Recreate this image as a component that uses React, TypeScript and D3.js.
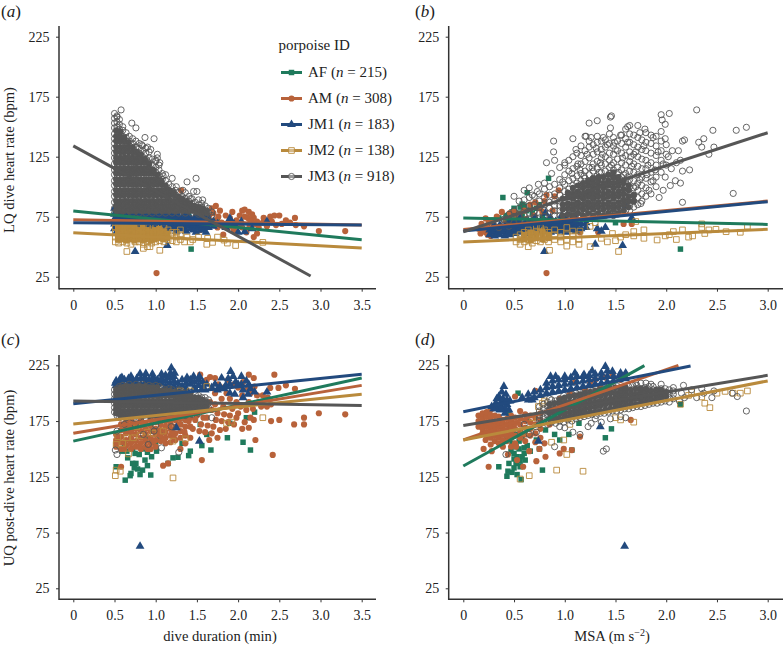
import React, { useEffect, useRef } from 'react';
import * as d3 from 'd3';

type Pt = number[];

const seriesIds = ['AF', 'AM', 'JM1', 'JM2', 'JM3'];
const seriesCounts = [215, 308, 183, 138, 918];
const yTicks = [25, 75, 125, 175, 225];
const durationTicks = [0, 0.5, 1, 1.5, 2, 2.5, 3, 3.5];
const msaTicks = [0, 0.5, 1, 1.5, 2, 2.5, 3];

// fitted lines, one per porpoise: [value at 0, x end, value at end]
const linesA = [[79.7, 3.5, 55.8], [72.5, 3.5, 68], [70, 3.5, 68], [61.7, 3.5, 49], [134, 2.88, 25.6]];
const linesB = [[74, 3, 68.6], [64.4, 3, 88], [63, 3, 87.5], [54, 3, 64.5], [62.5, 3, 145]];
const linesC = [[157, 3.5, 213.6], [164, 3.5, 207], [190.6, 3.5, 217], [172.4, 3.5, 199], [193, 3.5, 189]];
const linesD = [[134.7, 1.785, 224.7], [158, 2.12, 225], [183.4, 2.24, 224.4], [158, 3, 211], [171, 3, 216]];

// (a) dive duration vs LQ dive heart rate. Scatter is [x, y], columns are [x, y, y, y...]
// "Core" columns are the places where the marks overlap so much they read as a solid patch
const afA: Pt[] = [[1.43, 48], [0.51, 78], [0.6, 83], [1.4, 78], [1.94, 67], [1.75, 71], [2.1, 64], [0.9, 72], [1.2, 70], [1.6, 72], [2.0, 70]];
const amA: Pt[] = [[1.01, 28], [2.98, 63], [3.3, 63], [1.31, 97], [1.73, 84], [1.78, 80], [1.93, 79], [2.05, 80], [2.08, 81], [2.13, 79], [2.08, 75], [2.19, 74], [2.23, 71], [2.31, 74], [2.39, 75], [2.44, 76], [2.5, 76], [2.41, 71], [2.53, 69], [2.58, 72], [2.69, 74], [2.7, 68], [2.63, 70], [2.8, 67], [2.46, 68], [1.7, 78], [1.62, 69], [1.54, 64], [1.82, 60], [2.19, 58], [2.23, 61], [2.35, 67], [1.68, 82], [1.76, 75], [1.85, 76], [1.9, 74], [1.98, 72], [2.02, 76], [2.12, 74], [2.17, 77], [2.2, 69], [2.25, 66], [2.36, 71], [2.14, 67], [1.65, 76], [1.6, 79], [1.56, 72], [1.5, 68], [1.45, 66], [1.72, 72], [1.8, 70], [1.88, 66], [1.95, 64], [2.05, 66], [2.1, 62], [1.25, 78], [1.1, 80], [0.9, 80], [1.35, 82], [1.75, 66], [1.9, 70], [2.0, 68], [2.15, 71], [2.3, 70]];
const jm1A: Pt[] = [[0.75, 46], [1.14, 51], [1.9, 73.6], [1.47, 74], [2.04, 71], [2.08, 62.5], [2.17, 65], [2.35, 71], [1.75, 69], [1.85, 66], [1.95, 69], [2.0, 62]];
const jm1AColumns: Pt[] = [
  [0.5, 65, 69, 73, 77, 82], [0.53, 63, 67, 71, 75, 79], [0.56, 67, 71, 75, 79], [0.59, 65, 69, 73, 77], [0.62, 65, 69, 73, 77], [0.65, 63, 67, 71, 75, 79], [0.68, 67, 71, 75, 79],
  [0.71, 65, 69, 73, 77], [0.74, 65, 69, 73, 77], [0.77, 63, 67, 71, 75, 79], [0.8, 67, 71, 75, 79], [0.83, 65, 69, 73, 77], [0.86, 65, 69, 73, 77], [0.89, 63, 67, 71, 75, 79], [0.92, 67, 71, 75, 79],
  [0.95, 65, 69, 73, 77], [0.98, 65, 69, 73, 77], [1.01, 63, 67, 71, 75, 79], [1.04, 67, 71, 75, 79], [1.07, 65, 69, 73, 77], [1.1, 65, 69, 73, 77], [1.13, 63, 67, 71, 75, 79], [1.16, 67, 71, 75, 79],
  [1.19, 65, 69, 73, 77], [1.22, 65, 69, 73, 77], [1.25, 63, 67, 71, 75, 79], [1.28, 67, 71, 75], [1.31, 65, 69, 73], [1.34, 65, 69, 73, 77], [1.37, 63, 67, 71, 75], [1.4, 67, 71, 75],
  [1.43, 65, 69, 73], [1.46, 64, 68, 72], [1.49, 62, 66, 70, 74], [1.52, 66, 70, 74], [1.55, 64, 68, 72], [1.58, 64, 68, 72, 76], [1.61, 62, 66, 70, 74], [1.64, 66, 70, 74], [1.7, 67, 71],
];
const jm2A: Pt[] = [[0.65, 46], [0.85, 48.6], [0.93, 50], [1.05, 47], [1.63, 57], [1.62, 52], [1.69, 53.6], [1.83, 55.5], [1.87, 53], [1.97, 51], [2.3, 53.6], [1.45, 56], [1.38, 58], [1.52, 58], [1.75, 58], [1.35, 54], [1.42, 54]];
const jm2AColumns: Pt[] = [
  [0.51, 54, 58, 62, 66, 70], [0.55, 53, 56, 60, 64, 68], [0.6, 54, 58, 62, 66], [0.65, 53, 56, 60, 64, 68], [0.7, 52, 58, 62, 66],
  [0.75, 54, 57, 60, 64, 68], [0.8, 54, 58, 62, 66], [0.85, 52, 56, 60, 64, 68], [0.9, 50, 54, 58, 62, 66], [0.95, 53, 56, 60, 64],
  [1.0, 54, 58, 62, 66], [1.05, 55, 60, 64], [1.1, 54, 58, 62, 66], [1.15, 56, 60, 64], [1.2, 55, 59, 62], [1.25, 54, 58, 62],
  [1.3, 56, 60, 64],
];
const jm2ACore: Pt[] = [
  [0.54, 56, 60, 64, 68], [0.59, 56, 60, 64, 67], [0.64, 55, 59, 63, 67], [0.69, 56, 60, 64, 68], [0.74, 55, 59, 63, 67], [0.79, 56, 60, 64],
  [0.84, 55, 59, 63, 67], [0.89, 56, 60, 64], [0.94, 55, 59, 63], [0.99, 56, 60, 64], [1.04, 57, 61, 65], [1.09, 56, 60, 63], [1.14, 57, 61],
];
const jm3A: Pt[] = [[0.5, 161], [0.58, 164], [0.53, 159], [0.71, 153], [0.76, 149], [0.87, 141], [0.98, 140], [1.02, 127], [1.02, 124], [1.09, 109], [1.2, 107], [1.25, 100], [1.38, 104], [1.49, 107], [1.46, 96], [1.5, 96], [1.57, 89], [1.33, 97], [1.42, 90], [0.83, 135], [0.9, 133], [0.94, 131], [1.0, 122], [1.05, 120], [1.12, 110]];
const jm3AColumns: Pt[] = [
  [0.5, 78, 82, 87, 92, 96, 101, 105, 110, 114, 119, 124, 128, 132, 136, 140, 144, 149, 153, 157],
  [0.53, 80, 84, 89, 94, 98, 103, 107, 112, 116, 121, 126, 130, 134, 138, 142, 146, 150, 154, 158],
  [0.56, 78, 82, 87, 91, 96, 100, 105, 109, 114, 118, 123, 127, 132, 136, 140, 145, 148, 152, 156],
  [0.6, 80, 85, 89, 94, 98, 103, 107, 112, 116, 121, 125, 130, 134, 138, 142, 147, 150],
  [0.64, 78, 83, 87, 92, 96, 101, 105, 110, 114, 119, 123, 128, 132, 136, 141, 145],
  [0.68, 80, 85, 89, 94, 98, 103, 107, 112, 116, 121, 125, 130, 134, 138, 142],
  [0.72, 78, 83, 87, 92, 96, 101, 105, 110, 114, 119, 123, 128, 132, 136, 140],
  [0.76, 80, 84, 89, 93, 98, 102, 107, 111, 116, 120, 125, 129, 133, 138],
  [0.8, 78, 83, 87, 92, 96, 101, 105, 110, 114, 119, 123, 128, 132, 136],
  [0.84, 80, 85, 89, 94, 98, 103, 107, 112, 116, 121, 125, 130, 134],
  [0.88, 78, 83, 87, 92, 96, 101, 105, 110, 114, 119, 123, 128, 132],
  [0.92, 80, 85, 89, 94, 98, 103, 107, 112, 116, 120, 124, 129],
  [0.96, 78, 83, 87, 92, 96, 101, 105, 110, 114, 118, 123],
  [1.0, 80, 85, 89, 94, 98, 103, 107, 112, 116, 121],
  [1.04, 78, 83, 87, 92, 96, 100, 105, 109, 114, 118],
  [1.08, 80, 84, 89, 93, 98, 102, 106, 111],
  [1.12, 78, 83, 87, 92, 96, 100, 105],
  [1.16, 80, 84, 89, 93, 97, 102],
  [1.2, 78, 83, 87, 91, 96, 100],
  [1.24, 80, 84, 88, 93, 97],
  [1.28, 78, 82, 87, 91, 95],
  [1.32, 80, 84, 88, 92],
  [1.36, 78, 82, 86, 90, 95],
  [1.4, 80, 84, 88, 92],
  [1.44, 78, 82, 86, 90],
  [1.48, 79, 83, 87],
  [1.52, 77, 81, 85, 89],
  [1.56, 79, 83, 86],
  [1.6, 76, 80, 84],
  [1.64, 78, 82],
  [1.68, 76, 79],
];
const jm3ACore: Pt[] = [
  [0.52, 80, 84, 88, 93, 97, 102, 106, 111, 115, 120, 124, 129, 133, 138, 142, 147],
  [0.57, 80, 84, 88, 93, 97, 102, 106, 111, 115, 120, 124, 129, 133, 138, 142, 146],
  [0.62, 80, 84, 88, 93, 97, 102, 106, 111, 115, 120, 124, 129, 133, 138, 141],
  [0.67, 80, 84, 88, 93, 97, 102, 106, 111, 115, 120, 124, 129, 133, 137],
  [0.72, 80, 84, 88, 93, 97, 102, 106, 111, 115, 120, 124, 129, 133],
  [0.77, 80, 84, 88, 93, 97, 102, 106, 111, 115, 120, 124, 129],
  [0.82, 80, 84, 88, 93, 97, 102, 106, 111, 115, 120, 124, 127],
  [0.87, 80, 84, 88, 93, 97, 102, 106, 111, 115, 120, 123],
  [0.92, 80, 84, 88, 93, 97, 102, 106, 111, 115, 119],
  [0.97, 80, 84, 88, 93, 97, 102, 106, 111, 114],
  [1.02, 80, 84, 88, 93, 97, 102, 106, 110],
  [1.07, 80, 84, 88, 93, 97, 102, 105],
  [1.12, 80, 84, 88, 93, 97, 101],
  [1.17, 80, 84, 88, 93, 97],
  [1.22, 80, 84, 88, 93, 95],
  [1.27, 80, 84, 88, 92],
  [1.32, 80, 84, 88, 90],
  [1.37, 80, 84, 88],
  [1.42, 80, 84, 86],
  [1.47, 80, 84],
  [1.52, 79, 83],
  [1.57, 78, 82],
  [1.62, 78, 80],
];

// (b) MSA vs LQ dive heart rate
const afB: Pt[] = [[0.39, 91], [0.63, 95], [0.84, 107], [2.14, 48], [0.58, 85.5], [0.56, 83], [0.48, 79], [0.68, 78], [0.52, 73], [0.62, 80], [0.72, 82], [0.42, 76], [0.35, 74], [0.78, 76], [1.2, 73], [1.5, 70], [0.46, 74], [0.55, 78], [0.6, 84], [0.66, 81], [0.75, 85], [0.5, 82], [0.58, 76], [0.7, 75]];
const amB: Pt[] = [[0.82, 28], [0.82, 93], [0.94, 97], [0.71, 87], [0.38, 79], [1.33, 62], [1.58, 69], [1.66, 69], [0.17, 61], [0.18, 69], [0.22, 73.6], [0.31, 60], [0.2, 66], [0.27, 59], [0.25, 70], [0.33, 75], [0.42, 71], [0.5, 79], [0.55, 77], [0.62, 73], [0.7, 76], [0.88, 80], [0.78, 79], [1.05, 68], [1.15, 62], [0.22, 62], [0.3, 68], [0.15, 65], [0.19, 63], [0.23, 67], [0.26, 63], [0.29, 72], [0.24, 60], [0.46, 78], [0.52, 75], [0.6, 80], [0.66, 85], [0.8, 88], [0.9, 92], [0.75, 82]];
const jm1B: Pt[] = [[0.8, 46], [1.57, 51], [1.32, 65], [1.4, 66], [1.36, 63], [1.66, 74], [0.81, 78], [0.97, 76], [1.6, 84], [1.3, 52], [1.1, 75]];
const jm1BColumns: Pt[] = [
  [0.26, 60, 64], [0.29, 62, 66], [0.31, 59, 63, 67], [0.34, 61, 65], [0.36, 60, 64, 68], [0.39, 62, 66], [0.41, 59, 63, 67], [0.44, 61, 65, 69], [0.46, 60, 64, 68, 72], [0.49, 62, 66, 70], [0.51, 61, 65, 69],
  [0.54, 63, 67, 71], [0.56, 62, 66, 70, 74], [0.59, 64, 68], [0.61, 61, 65, 69], [0.64, 63, 67, 71], [0.66, 62, 66, 70], [0.69, 64, 68, 72], [0.71, 62, 66, 70, 74], [0.74, 64, 68], [0.76, 63, 67, 71], [0.79, 65, 69], [0.81, 63, 67, 71],
  [0.84, 64, 68, 72], [0.86, 62, 66, 70, 74], [0.89, 64, 68], [0.91, 63, 67, 71], [0.94, 65, 69], [0.96, 63, 67, 71], [0.99, 64, 68, 72], [1.01, 62, 66, 70, 74], [1.04, 65, 69], [1.06, 64, 68, 72], [1.09, 66, 70], [1.11, 63, 67, 71],
  [1.16, 65, 69], [1.21, 66, 70],
];
const jm2B: Pt[] = [[0.85, 47], [1.53, 46], [1.02, 50.5], [1.25, 50], [1.42, 54], [1.5, 55], [1.78, 64], [1.78, 57], [1.91, 55.6], [1.99, 59], [2.1, 56], [2.07, 62.6], [2.16, 64], [2.22, 58], [2.35, 69], [2.35, 66], [2.38, 61], [2.42, 64], [2.49, 64.5], [2.59, 62.5], [2.73, 62], [2.8, 67], [1.7, 71], [1.68, 62.6], [1.68, 59], [1.47, 61], [1.3, 70], [1.15, 63], [1.25, 67], [1.36, 57], [1.55, 58], [1.6, 60], [2.03, 60], [2.26, 59]];
const jm2BColumns: Pt[] = [
  [0.52, 54, 58], [0.56, 52, 56, 60], [0.6, 54, 58, 62], [0.64, 50, 56, 60, 64], [0.68, 53, 57, 61], [0.72, 55, 59, 63, 67],
  [0.76, 54, 58, 62, 66], [0.8, 56, 60, 64], [0.84, 54, 58, 62], [0.9, 56, 60, 64], [0.96, 54, 58, 62], [1.02, 56, 60, 66], [1.08, 54, 59, 63], [1.14, 52, 56, 60],
];
const jm2BCore: Pt[] = [[0.6, 56, 60], [0.66, 55, 59, 62], [0.72, 57, 61], [0.78, 56, 60, 63], [0.84, 57, 60]];
const jm3B: Pt[] = [[2.3, 164], [2.03, 161], [1.95, 160], [1.96, 155.6], [1.99, 152], [2.79, 149.5], [2.69, 147], [2.46, 147], [2.37, 140], [2.32, 137], [2.35, 133], [2.47, 133], [2.42, 127], [2.23, 114], [2.16, 138], [2.18, 139], [2.66, 94.4], [2.16, 87], [1.32, 155], [1.24, 153], [1.46, 159], [1.45, 158], [1.45, 149], [1.21, 142], [1.2, 142], [1.08, 140], [0.89, 138], [0.89, 129], [0.82, 120], [0.9, 122], [1.0, 120], [0.87, 111], [0.98, 104], [0.74, 102], [0.68, 93], [0.73, 96], [1.64, 151], [1.72, 151], [1.79, 148], [1.62, 150], [1.87, 141], [1.99, 140], [2.06, 130], [2.12, 130], [1.93, 91], [1.97, 97], [2.04, 101], [2.09, 105], [2.14, 103], [2.16, 113], [2.14, 122], [1.99, 108], [1.89, 114], [1.83, 97], [1.75, 86], [2.05, 115], [2.1, 120], [2.02, 125],
  [1.07, 111], [1.13, 119], [1.19, 109], [1.22, 127], [1.27, 116], [1.31, 132], [1.34, 112], [1.37, 127], [1.42, 135], [1.46, 118], [1.5, 131], [1.53, 112], [1.57, 124], [1.62, 137], [1.66, 117], [1.7, 129], [1.74, 106], [1.78, 134], [1.82, 118], [1.87, 105], [1.92, 129], [1.97, 119], [1.11, 131], [1.26, 141], [1.38, 141], [1.55, 143], [1.74, 145], [1.65, 125], [1.43, 103], [1.58, 110], [1.7, 100], [1.81, 110], [1.15, 114], [1.35, 120], [1.49, 137], [1.62, 108]];
const jm3BColumns: Pt[] = [
  [0.35, 66, 70], [0.4, 68, 73], [0.45, 67, 72, 77], [0.5, 70, 75, 80, 92], [0.55, 71, 76, 82, 88], [0.6, 72, 77, 83, 89, 97],
  [0.65, 73, 78, 84, 91, 99], [0.7, 74, 79, 85, 92], [0.75, 74, 78, 83, 88, 94], [0.8, 75, 80, 85, 91, 98, 103], [0.85, 74, 78, 82, 87, 93, 100],
  [0.9, 76, 80, 84, 88, 94, 102],
  [0.95, 76, 80, 84, 88, 93, 99, 106, 116],
  [1.0, 75, 79, 83, 87, 91, 96, 102, 110, 118],
  [1.04, 77, 81, 85, 89, 93, 98, 105, 113, 122],
  [1.08, 76, 80, 84, 88, 92, 96, 101, 107, 115, 125],
  [1.12, 78, 82, 86, 90, 94, 98, 103, 109, 117, 128],
  [1.16, 76, 80, 84, 88, 92, 96, 100, 105, 111, 119, 126, 134],
  [1.2, 78, 82, 86, 90, 94, 98, 102, 107, 113, 121, 130],
  [1.24, 76, 80, 84, 88, 92, 96, 100, 104, 110, 116, 124, 133, 138],
  [1.28, 78, 82, 86, 90, 94, 98, 102, 107, 113, 119, 127, 135],
  [1.32, 76, 80, 84, 88, 92, 96, 100, 104, 109, 115, 121, 129, 137, 142],
  [1.36, 78, 82, 86, 90, 94, 98, 102, 106, 112, 118, 124, 131, 138],
  [1.4, 76, 80, 84, 88, 92, 96, 100, 104, 108, 113, 119, 125, 133, 139],
  [1.44, 78, 82, 86, 90, 94, 98, 102, 106, 111, 116, 122, 128, 136, 144],
  [1.48, 76, 80, 84, 88, 92, 96, 100, 104, 108, 114, 120, 127, 134, 141],
  [1.52, 77, 81, 85, 89, 93, 97, 101, 105, 110, 116, 123, 130, 138],
  [1.56, 78, 82, 86, 90, 94, 98, 103, 108, 114, 120, 128, 136, 143],
  [1.6, 80, 84, 88, 92, 96, 100, 105, 111, 118, 126, 133, 140, 148],
  [1.64, 80, 84, 89, 94, 100, 106, 113, 121, 129, 137, 144],
  [1.68, 83, 88, 93, 99, 105, 112, 119, 127, 135, 143],
  [1.72, 85, 91, 97, 103, 110, 117, 125, 133, 141],
  [1.76, 88, 94, 101, 108, 115, 123, 131, 139],
  [1.8, 92, 99, 107, 115, 122, 130, 137, 145],
  [1.85, 94, 104, 112, 120, 128, 136, 143],
  [1.9, 100, 108, 118, 126, 134, 142],
  [1.95, 112, 122, 130, 138, 146],
  [2.0, 118, 127, 135],
];
const jm3BCore: Pt[] = [
  [0.98, 76, 81, 85, 90], [1.03, 77, 82, 86, 91, 95], [1.08, 76, 81, 85, 90, 94, 99], [1.13, 78, 83, 87, 92, 96, 101],
  [1.18, 76, 81, 85, 90, 94, 99, 103], [1.23, 78, 83, 87, 92, 96, 101, 105], [1.28, 76, 81, 85, 90, 94, 99, 103, 107],
  [1.33, 78, 83, 87, 92, 96, 101, 105, 108], [1.38, 76, 81, 85, 90, 94, 99, 103, 108], [1.43, 78, 83, 87, 92, 96, 101, 105, 110],
  [1.48, 76, 81, 85, 90, 94, 99, 103, 108, 112], [1.53, 78, 83, 87, 92, 96, 101, 105, 108], [1.58, 80, 85, 89, 94, 98, 103, 105],
  [1.63, 83, 88, 92, 97, 101], [1.68, 88, 93],
];

// (c) dive duration vs UQ post-dive heart rate
const afC: Pt[] = [[0.63, 122], [0.69, 126], [0.81, 127], [0.94, 126.6], [0.84, 131], [0.74, 133], [0.52, 134], [0.76, 137], [0.87, 140], [0.95, 143], [1.01, 148], [0.59, 148], [1.21, 142], [1.4, 144], [1.42, 148], [1.27, 142.5], [2.15, 149], [2.06, 156], [1.67, 149], [1.56, 153], [1.62, 163], [1.87, 160], [2.2, 183], [2.1, 178], [1.54, 172], [1.32, 155], [1.15, 137], [1.32, 206], [1.48, 205], [0.66, 142], [0.72, 137], [0.78, 132], [0.7, 128], [0.9, 135], [0.62, 155], [0.75, 146], [0.85, 150], [0.95, 156], [1.05, 160], [1.1, 165], [0.7, 158], [1.3, 172], [1.9, 173], [0.8, 145], [0.9, 147], [1.0, 155], [0.72, 150], [0.65, 148], [1.0, 165], [0.88, 160]];
const amC: Pt[] = [[2.44, 216.6], [1.54, 216.6], [1.66, 214.5], [1.72, 213.6], [2.13, 216.6], [2.19, 213.6], [2.39, 204.7], [2.49, 204.7], [2.58, 207], [2.69, 204], [2.98, 182], [3.3, 181], [2.8, 178], [2.8, 172], [2.68, 172], [2.5, 176], [2.4, 175], [2.19, 176], [2.13, 169], [2.21, 158], [2.42, 144.6], [1.56, 140], [1.09, 135], [1.15, 137], [0.58, 134], [1.5, 180], [1.55, 172], [1.6, 165], [1.65, 158], [1.7, 170], [1.75, 160], [1.8, 175], [1.85, 168], [1.9, 180], [1.95, 172], [2.0, 182], [2.05, 168], [2.1, 185], [2.15, 178], [1.62, 178], [1.68, 185], [1.75, 182], [1.82, 188], [1.9, 195], [1.98, 192], [2.05, 198], [1.72, 200], [1.8, 205], [1.88, 212], [2.0, 205], [2.15, 200], [2.25, 192], [2.35, 188], [2.4, 190], [1.4, 175], [1.45, 168], [1.35, 165], [1.28, 172], [1.22, 160], [1.3, 150], [1.2, 165], [1.1, 158], [1.03, 165], [0.98, 157], [0.9, 150], [0.85, 160], [0.8, 152], [0.7, 165], [0.62, 150], [0.55, 160], [0.52, 155],
  [1.48, 176], [1.53, 166], [1.58, 178], [1.63, 171], [1.68, 164], [1.73, 176], [1.78, 167], [1.83, 181], [1.88, 174], [1.93, 186], [1.98, 178], [2.03, 188], [2.08, 174], [2.13, 192], [2.18, 186], [2.23, 198], [2.28, 188], [1.6, 186], [1.66, 192], [1.72, 190], [1.8, 195], [1.86, 200], [1.95, 208], [2.06, 210], [2.12, 204], [2.2, 206], [2.3, 198], [2.36, 196], [1.76, 208], [1.62, 212]];
const amCColumns: Pt[] = [
  [0.52, 152, 158, 163], [0.58, 150, 156, 161, 167, 172], [0.64, 153, 158, 164, 169, 174], [0.7, 150, 155, 160, 166, 171, 176], [0.76, 152, 157, 163, 168, 173],
  [0.82, 150, 155, 160, 166, 171, 176], [0.88, 152, 157, 163, 168, 173], [0.94, 150, 155, 160, 166, 171, 176], [1.0, 152, 158, 163, 168, 174], [1.06, 157, 162, 167, 172, 176],
  [1.12, 155, 160, 165, 170, 175], [1.18, 156, 162, 168, 173], [1.24, 158, 164, 170, 176], [1.3, 160, 166, 172, 177], [1.36, 155, 162, 170, 176], [1.42, 160, 170, 178],
];
const jm1CColumns: Pt[] = [
  [0.52, 207, 211], [0.57, 209, 213], [0.62, 207, 212], [0.67, 209, 213], [0.72, 208, 212], [0.77, 209, 213], [0.82, 208, 213], [0.87, 209, 214], [0.92, 208, 212],
  [0.97, 209, 214], [1.02, 208, 212], [1.07, 209, 213], [1.12, 206, 211, 216], [1.17, 204, 209, 214], [1.22, 206, 211, 215], [1.27, 204, 209], [1.32, 206, 212],
  [1.37, 204, 209], [1.42, 208, 212], [1.47, 205, 210], [1.52, 207, 212], [1.57, 205, 210], [1.62, 208], [1.75, 203], [1.83, 204], [1.9, 208], [1.97, 210], [2.06, 203], [2.12, 199],
];
const jm1C: Pt[] = [[0.51, 209], [0.59, 214], [0.7, 215], [0.81, 217.5], [0.88, 217.5], [0.96, 217], [1.07, 217], [1.19, 222.6], [1.23, 218], [1.38, 214], [1.46, 215], [1.53, 215], [1.8, 213.6], [1.91, 219.6], [1.94, 215], [2.04, 215], [2.04, 207.6], [2.13, 207.6], [2.2, 201], [2.35, 201], [1.96, 199], [2.06, 196], [0.81, 62.7], [1.25, 169], [1.53, 157], [1.18, 218], [1.6, 203], [1.68, 205], [1.72, 208], [1.78, 206], [1.85, 207], [1.88, 213], [2.0, 208], [2.1, 211], [1.9, 200], [2.15, 204]];
const jm2C: Pt[] = [[0.51, 126], [0.57, 130], [1.21, 124], [2.3, 178], [0.52, 131], [0.67, 145.5], [0.54, 161], [1.21, 157], [1.36, 159], [0.73, 160], [0.81, 162], [0.97, 164], [1.09, 166], [1.62, 206], [1.42, 202], [1.3, 202], [1.86, 173], [1.92, 174], [0.6, 155], [0.77, 170], [0.52, 154], [0.65, 160], [0.9, 165]];
const jm3C: Pt[] = [[0.51, 149], [0.53, 145], [1.28, 147], [1.19, 170], [1.68, 178], [0.98, 166], [0.91, 154], [1.07, 151], [0.85, 163], [0.53, 166], [0.62, 172], [0.75, 172], [1.0, 171]];
const jm3CColumns: Pt[] = [
  [0.5, 183, 187, 191, 195, 199, 203], [0.53, 180, 184, 188, 192, 196, 200, 204], [0.56, 178, 182, 186, 190, 194, 198, 202, 206],
  [0.6, 180, 184, 188, 192, 196, 200, 204, 207], [0.64, 178, 182, 186, 190, 194, 198, 202, 206], [0.68, 180, 184, 188, 192, 196, 200, 204, 208],
  [0.72, 178, 182, 186, 190, 194, 198, 202, 206], [0.76, 180, 184, 188, 192, 196, 200, 204, 208], [0.8, 178, 182, 186, 190, 194, 198, 202, 206],
  [0.84, 180, 184, 188, 192, 196, 200, 204, 208], [0.88, 178, 182, 186, 190, 194, 198, 202, 206], [0.92, 180, 184, 188, 192, 196, 200, 204, 207],
  [0.96, 178, 182, 186, 190, 194, 198, 202, 206], [1.0, 180, 184, 188, 192, 196, 200, 204, 207], [1.04, 178, 182, 186, 190, 194, 198, 202, 206],
  [1.08, 180, 184, 188, 192, 196, 200, 204], [1.12, 179, 183, 187, 191, 195, 199, 203], [1.16, 180, 184, 188, 192, 196, 200, 204],
  [1.2, 179, 183, 187, 191, 195, 199, 203], [1.24, 181, 185, 189, 193, 197, 201], [1.28, 180, 184, 188, 192, 196, 200, 203],
  [1.32, 181, 185, 189, 193, 197, 201], [1.36, 180, 184, 188, 192, 196, 200], [1.4, 182, 186, 190, 194, 198, 201], [1.44, 181, 185, 189, 193, 197],
  [1.48, 183, 187, 191, 195, 199], [1.52, 182, 186, 190, 194, 198], [1.56, 184, 188, 192, 196], [1.6, 185, 189, 193, 196], [1.64, 187, 191, 194],
];
const jm3CCore: Pt[] = [
  [0.52, 182, 186, 190, 195, 199, 203], [0.57, 180, 184, 189, 193, 198, 202, 205], [0.62, 180, 184, 189, 193, 198, 202, 206], [0.67, 180, 184, 189, 193, 198, 202, 206],
  [0.72, 180, 184, 189, 193, 198, 202, 206], [0.77, 180, 184, 189, 193, 198, 202, 206], [0.82, 180, 184, 189, 193, 198, 202, 206], [0.87, 180, 184, 189, 193, 198, 202, 206],
  [0.92, 180, 184, 189, 193, 198, 202, 205], [0.97, 180, 184, 189, 193, 198, 202, 205], [1.02, 180, 184, 189, 193, 198, 202, 205], [1.07, 180, 184, 189, 193, 198, 202],
  [1.12, 181, 185, 189, 193, 198, 202], [1.17, 181, 185, 189, 193, 198, 202], [1.22, 181, 185, 189, 193, 198, 201], [1.27, 182, 186, 190, 194, 198, 200],
  [1.32, 182, 186, 190, 194, 198, 200], [1.37, 182, 186, 190, 194, 198], [1.42, 183, 187, 191, 195, 198], [1.47, 184, 188, 192, 196], [1.52, 184, 188, 192, 196],
  [1.57, 186, 190, 194], [1.62, 188, 192],
];

// (d) MSA vs UQ post-dive heart rate
const afD: Pt[] = [[0.54, 200], [0.43, 125.5], [0.48, 129], [0.35, 134], [0.45, 137], [0.57, 122.5], [0.78, 131], [1.07, 149], [0.95, 158], [1.04, 163], [1.4, 160], [1.46, 168], [2.14, 190], [0.53, 143], [0.61, 140], [0.56, 134], [0.43, 161], [0.81, 167], [0.9, 163], [1.14, 173], [0.45, 182], [0.5, 146], [0.55, 150], [0.6, 146], [0.48, 155], [0.52, 137], [0.58, 143], [0.46, 170], [0.63, 153], [0.72, 158], [0.52, 163], [0.62, 176], [0.75, 150], [0.5, 141], [0.56, 139], [0.6, 151], [0.55, 157], [0.47, 148], [0.52, 152], [0.58, 160], [0.66, 148], [0.44, 130], [0.5, 133], [0.53, 127]];
const amD: Pt[] = [[0.25, 134], [0.44, 145], [0.53, 140], [0.59, 134], [0.72, 139], [0.81, 143], [0.95, 146], [0.99, 150], [1.07, 149], [1.15, 161], [1.65, 176], [0.51, 197], [0.71, 202], [1.47, 217], [1.6, 217], [0.22, 158], [0.27, 154], [0.28, 148], [0.2, 150], [0.65, 148], [0.52, 152], [0.75, 150], [0.8, 155], [0.85, 185], [0.95, 195], [1.05, 200], [1.15, 198], [1.25, 210], [1.35, 205], [1.1, 210], [0.9, 178], [1.2, 204], [1.3, 212], [1.4, 214], [1.55, 212], [1.0, 192], [0.85, 172]];
const amDColumns: Pt[] = [
  [0.15, 170, 175, 180], [0.19, 164, 168, 172, 177, 182], [0.23, 161, 165, 170, 174, 179, 183], [0.27, 160, 164, 168, 172, 176, 180, 185], [0.31, 157, 162, 166, 171, 175, 180],
  [0.35, 155, 160, 165, 170, 174, 179], [0.39, 152, 158, 163, 168, 172, 176], [0.43, 157, 162, 167, 172, 177], [0.47, 152, 160, 165, 170, 175, 180], [0.51, 155, 162, 168, 173, 178],
  [0.56, 160, 166, 172, 178, 184], [0.61, 157, 163, 169, 175, 181], [0.66, 162, 168, 174, 180], [0.71, 156, 164, 172, 178], [0.76, 160, 168, 176, 182],
];
const jm1D: Pt[] = [[0.4, 206], [0.35, 197], [0.32, 191], [0.36, 185], [0.43, 190], [0.42, 199], [0.38, 201], [0.33, 195], [0.3, 186], [0.38, 192], [0.45, 185], [0.34, 188], [0.41, 182], [0.46, 193], [0.39, 195], [0.36, 190], [0.41, 187], [0.37, 186], [0.43, 194], [0.32, 186], [0.28, 188], [0.58, 196], [0.68, 194], [0.86, 215], [0.91, 215], [1.0, 215], [1.1, 218], [1.19, 216.6], [1.27, 220], [1.4, 224], [1.47, 219.6], [1.55, 218], [1.6, 218], [1.35, 170], [1.59, 62.7], [0.74, 157]];
const jm1DColumns: Pt[] = [
  [0.64, 194, 199], [0.7, 196, 201], [0.76, 198, 203], [0.82, 200, 205, 209], [0.88, 201, 206, 211], [0.94, 202, 207, 212], [1.0, 203, 208, 212], [1.06, 204, 209, 214],
  [1.12, 205, 210, 215], [1.18, 206, 211, 215], [1.24, 207, 212, 216], [1.3, 208, 213, 217], [1.36, 209, 214, 218], [1.42, 210, 215, 220], [1.48, 211, 215], [1.54, 212, 216], [1.6, 213],
];
const jm2D: Pt[] = [[0.56, 123], [0.65, 126], [0.92, 131], [1.18, 130], [1.02, 145], [0.87, 156], [0.99, 158], [1.68, 174], [2.8, 202], [2.73, 200], [2.66, 200], [2.58, 201.6], [2.5, 200], [2.43, 187], [2.38, 191], [2.35, 196.6], [2.14, 190], [2.25, 201], [2.22, 198], [0.78, 191], [0.74, 188], [0.8, 193], [0.72, 170], [0.6, 165], [0.68, 178], [0.9, 176], [1.05, 172], [1.5, 178], [1.55, 176]];
const jm3D: Pt[] = [[2.79, 184], [2.7, 197], [2.65, 200], [2.45, 196], [2.47, 202], [2.3, 196], [2.37, 200], [2.35, 204], [2.25, 203], [2.15, 200], [2.18, 196], [2.13, 193], [2.17, 207], [2.07, 205], [1.38, 148], [1.41, 150], [1.15, 163], [1.23, 170], [1.26, 173], [1.3, 177], [0.42, 145], [0.9, 152], [1.6, 178], [1.36, 174], [1.45, 177], [1.55, 179], [1.08, 165], [1.0, 169], [0.95, 170], [0.72, 165], [0.65, 163], [0.6, 172], [0.75, 178], [0.85, 195], [1.85, 208], [1.8, 209], [1.75, 209], [1.7, 209], [1.95, 208]];
const jm3DColumns: Pt[] = [
  [0.75, 172, 176, 180, 184, 188], [0.79, 174, 178, 182, 186, 190], [0.83, 172, 176, 180, 184, 188, 192], [0.87, 174, 178, 182, 186, 190, 194],
  [0.91, 173, 177, 181, 185, 189, 193], [0.95, 175, 179, 183, 187, 191, 195], [0.99, 174, 178, 182, 186, 190, 194, 198], [1.03, 176, 180, 184, 188, 192, 196],
  [1.07, 175, 179, 183, 187, 191, 195, 199], [1.11, 177, 181, 185, 189, 193, 197, 200], [1.15, 178, 182, 186, 190, 194, 198, 201], [1.19, 179, 183, 187, 191, 195, 199, 202],
  [1.23, 180, 184, 188, 192, 196, 200, 203], [1.27, 181, 185, 189, 193, 197, 201, 204], [1.31, 180, 184, 188, 192, 196, 200, 204], [1.35, 182, 186, 190, 194, 198, 202, 205],
  [1.39, 182, 186, 190, 194, 198, 202, 206], [1.43, 183, 187, 191, 195, 199, 203, 206], [1.47, 184, 188, 192, 196, 200, 204, 207], [1.51, 184, 188, 192, 196, 200, 204, 207],
  [1.55, 185, 189, 193, 197, 201, 205], [1.59, 186, 190, 194, 198, 202, 206], [1.63, 186, 190, 194, 198, 202, 206], [1.67, 187, 191, 195, 199, 203, 207],
  [1.71, 188, 192, 196, 200, 204, 207], [1.75, 188, 192, 196, 200, 204], [1.79, 189, 193, 197, 201, 205], [1.83, 190, 194, 198, 202, 206],
  [1.87, 191, 195, 199, 203, 206], [1.91, 191, 195, 199, 203], [1.95, 192, 196, 200, 204], [1.99, 193, 197, 201, 204], [2.03, 192, 196, 200, 203], [2.07, 195, 199, 202],
];
const jm3DCore: Pt[] = [
  [0.85, 177, 182, 186, 190], [0.9, 177, 182, 186, 191], [0.95, 177, 182, 186, 191, 194], [1.0, 178, 182, 187, 191, 196], [1.05, 179, 183, 188, 192, 197], [1.1, 180, 184, 189, 193, 198],
  [1.15, 181, 185, 190, 194, 199], [1.2, 182, 186, 191, 195, 200], [1.25, 183, 187, 192, 196, 201], [1.3, 183, 188, 192, 197, 202], [1.35, 184, 189, 193, 198, 203], [1.4, 185, 190, 194, 199, 204],
  [1.45, 186, 191, 195, 200, 204], [1.5, 187, 191, 196, 200, 205], [1.55, 188, 192, 197, 201, 205], [1.6, 189, 193, 198, 202, 205], [1.65, 190, 194, 199, 203], [1.7, 190, 195, 199, 204],
  [1.75, 191, 195, 200, 204], [1.8, 192, 196, 201, 204], [1.85, 194, 198, 202], [1.9, 195, 199, 203], [1.95, 196, 200, 203], [2.0, 197, 201],
];

const colors = ['#1f7a5c', '#b8623a', '#224a7e', '#b98a3c', '#565656'];
const shapes = [d3.symbolSquare, d3.symbolCircle, d3.symbolTriangle, d3.symbolSquare, d3.symbolCircle];
const sizes = [30, 30, 34, 32, 30];
const hollow = [false, false, false, true, true];

const spread = (cols: Pt[]): Pt[] => cols.flatMap(([x, ...ys]) => ys.map(y => [x, y]));

const panels = [
  { label: 'a', labelX: 1, labelY: 17, axisX: 59, right: 376, xRange: [73.3, 361.7], top: 26, bottom: 288.7, yRange: [276.7, 36.7], xMax: 3.5, xTicks: durationTicks, lines: linesA,
    points: [afA, amA, [...spread(jm1AColumns), ...jm1A], [...spread(jm2AColumns), ...jm2A], [...spread(jm3AColumns), ...jm3A]],
    cores: [[], [], [], spread(jm2ACore), spread(jm3ACore)] },
  { label: 'b', labelX: 415, labelY: 17, axisX: 448.7, right: 783, xRange: [463.3, 767.7], top: 26, bottom: 288.7, yRange: [276.7, 36.7], xMax: 3, xTicks: msaTicks, lines: linesB,
    points: [afB, amB, [...spread(jm1BColumns), ...jm1B], [...spread(jm2BColumns), ...jm2B], [...spread(jm3BColumns), ...jm3B]],
    cores: [[], [], [], spread(jm2BCore), spread(jm3BCore)] },
  { label: 'c', labelX: 1, labelY: 345, axisX: 59, right: 376, xRange: [73.3, 361.7], top: 355, bottom: 599.3, yRange: [588.3, 365.3], xMax: 3.5, xTicks: durationTicks, lines: linesC,
    points: [afC, [...spread(amCColumns), ...amC], [...spread(jm1CColumns), ...jm1C], jm2C, [...spread(jm3CColumns), ...jm3C]],
    cores: [[], [], [], [], spread(jm3CCore)] },
  { label: 'd', labelX: 415, labelY: 345, axisX: 448.7, right: 783, xRange: [463.3, 767.7], top: 355, bottom: 599.3, yRange: [588.3, 365.3], xMax: 3, xTicks: msaTicks, lines: linesD,
    points: [afD, [...spread(amDColumns), ...amD], [...spread(jm1DColumns), ...jm1D], jm2D, [...spread(jm3DColumns), ...jm3D]],
    cores: [[], [], [], [], spread(jm3DCore)] },
];

const serif = '"Liberation Serif", serif';

const App = () => {
  const ref = useRef<SVGSVGElement>(null);

  useEffect(() => {
    const svg = d3.select(ref.current);
    svg.selectAll('*').remove();

    panels.forEach(p => {
      const x = d3.scaleLinear().domain([0, p.xMax]).range(p.xRange);
      const y = d3.scaleLinear().domain([25, 225]).range(p.yRange);
      const g = svg.append('g');

      // points, gray last because it sits on top of the others
      p.points.forEach((pts, i) => {
        const path = d3.symbol().type(shapes[i]).size(sizes[i])();
        g.append('g').selectAll('path').data(p.cores[i]).enter().append('path')
          .attr('d', path)
          .attr('transform', d => `translate(${x(d[0])},${y(d[1])})`)
          .attr('fill', colors[i]);
        g.append('g').selectAll('path').data(pts).enter().append('path')
          .attr('d', path)
          .attr('transform', d => `translate(${x(d[0])},${y(d[1])})`)
          .attr('fill', hollow[i] ? 'none' : colors[i])
          .attr('stroke', hollow[i] ? colors[i] : 'none')
          .attr('stroke-width', 0.9);
      });

      const line = d3.line<number[]>().x(d => x(d[0])).y(d => y(d[1]));
      p.lines.forEach((l, i) => {
        g.append('path')
          .attr('d', line([[0, l[0]], [l[1], l[2]]]))
          .attr('fill', 'none')
          .attr('stroke', colors[i])
          .attr('stroke-width', 3);
      });

      // axes
      const xAxis = d3.axisBottom(x).tickValues(p.xTicks).tickSize(3).tickPadding(8)
        .tickFormat(d => (+d === 0 ? '0' : (+d).toFixed(1)));
      const yAxis = d3.axisLeft(y).tickValues(yTicks).tickSize(3).tickPadding(6.5).tickFormat(d => `${d}`);
      [g.append('g').attr('transform', `translate(0,${p.bottom})`).call(xAxis),
        g.append('g').attr('transform', `translate(${p.axisX},0)`).call(yAxis)].forEach(a => {
        a.select('.domain').remove();
        a.selectAll('line').attr('stroke', '#333').attr('stroke-width', 1);
        a.selectAll('text').attr('fill', '#222').style('font-family', serif).style('font-size', '14px');
      });
      g.append('line').attr('x1', p.axisX).attr('x2', p.axisX).attr('y1', p.top).attr('y2', p.bottom + 0.7).attr('stroke', '#333').attr('stroke-width', 1.5);
      g.append('line').attr('x1', p.axisX).attr('x2', p.right).attr('y1', p.bottom).attr('y2', p.bottom).attr('stroke', '#333').attr('stroke-width', 1.5);

      const tag = g.append('text').attr('x', p.labelX).attr('y', p.labelY).attr('fill', '#222')
        .style('font-family', serif).style('font-size', '17px');
      tag.append('tspan').text('(');
      tag.append('tspan').attr('font-style', 'italic').text(p.label);
      tag.append('tspan').text(')');
    });

    // axis titles
    const title = (txt: string, tx: number, ty: number, rot = 0) => svg.append('text')
      .attr('transform', `translate(${tx},${ty}) rotate(${rot})`)
      .attr('text-anchor', 'middle').attr('fill', '#222')
      .style('font-family', serif).style('font-size', '14.6px').text(txt);
    title('LQ dive heart rate (bpm)', 14, 160, -90);
    title('UQ post-dive heart rate (bpm)', 14, 478, -90);
    title('dive duration (min)', 220, 641);
    const msa = title('MSA (m s', 612, 641);
    msa.append('tspan').attr('dy', -5).style('font-size', '10px').text('\u22122');
    msa.append('tspan').attr('dy', 5).text(')');

    // legend
    const legend = svg.append('g').style('font-family', serif).style('font-size', '15px').attr('fill', '#222');
    legend.append('text').attr('x', 278.5).attr('y', 50).text('porpoise ID');
    seriesIds.forEach((id, i) => {
      const ly = 72.5 + i * 26;
      legend.append('line').attr('x1', 281).attr('x2', 302).attr('y1', ly).attr('y2', ly)
        .attr('stroke', colors[i]).attr('stroke-width', 3);
      legend.append('path').attr('d', d3.symbol().type(shapes[i]).size(sizes[i])())
        .attr('transform', `translate(291.5,${ly})`)
        .attr('fill', hollow[i] ? '#fff' : colors[i])
        .attr('fill-opacity', hollow[i] ? 0.4 : 1)
        .attr('stroke', hollow[i] ? colors[i] : 'none').attr('stroke-width', 0.9);
      const t = legend.append('text').attr('x', 308).attr('y', ly + 4.5);
      t.append('tspan').text(`${id} (`);
      t.append('tspan').attr('font-style', 'italic').text('n');
      t.append('tspan').text(` = ${seriesCounts[i]})`);
    });
  }, []);

  return <svg ref={ref} width={783} height={646} style={{ position: 'absolute', left: 0, top: 0, background: '#fff' }} />;
};

export default App;
